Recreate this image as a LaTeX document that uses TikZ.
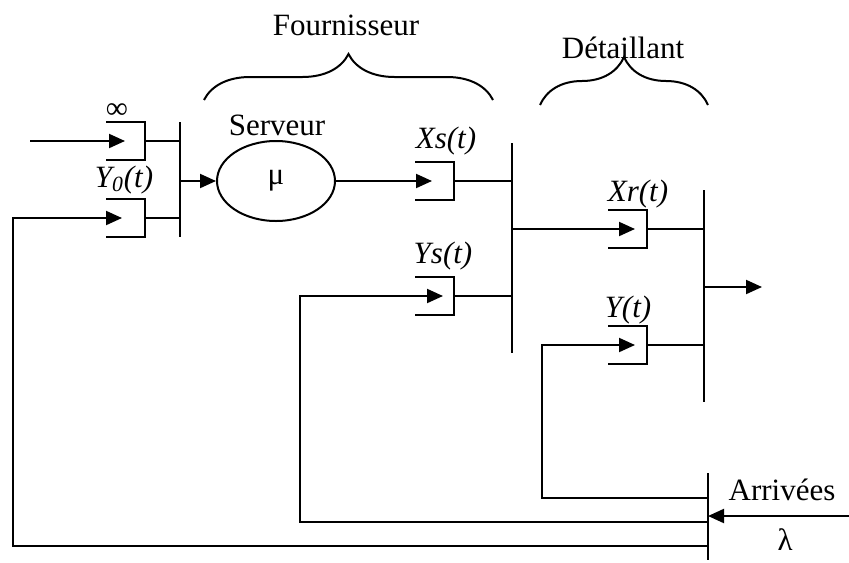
\documentclass[tikz,border=0pt]{standalone}
\usepackage{fontspec}
\setmainfont{Liberation Serif}
\usetikzlibrary{arrows.meta, shapes.geometric, decorations.pathreplacing}

\tikzset{
  fleche/.style={-{Triangle[length=8pt,width=7pt]}},
  accolade/.style={decorate, decoration={brace, amplitude=#1}},
  texte/.style={font=\fontsize{15.5}{18}\selectfont, inner sep=0pt},
  etiq/.style={texte, font=\fontsize{15.5}{18}\selectfont\itshape},
}

% file d'attente : nom, x du fond, y du milieu, recul de la pointe
\newcommand{\fileq}[4]{%
  \coordinate (#1) at (#2,#3);
  \coordinate (#1-in) at (#2-#4,#3);
  \draw (#2-39,#3-19) -- (#2,#3-19) -- (#2,#3+19) -- (#2-39,#3+19);
}

\begin{document}
\begin{tikzpicture}[x=0.5pt, y=-0.5pt, line width=1pt]
    \useasboundingbox (0,0) rectangle (849,562);

    % Fournisseur
    \fileq{qinf}{145}{141}{20}
    \fileq{qyzero}{145}{218}{23}
    \coordinate (b1h) at (180,122); \coordinate (b1b) at (180,237);
    \draw (b1h) -- (b1b);
    \coordinate (source) at (30,141);
    \draw[fleche] (source) -- (qinf-in);
    \draw (qinf) -- (qinf -| b1h);
    \draw (qyzero) -- (qyzero -| b1h);
    \node[texte] at (117,111) {∞};
    \node[etiq] at (124,180) {Y\textsubscript{0}(t)};

    \node[draw, ellipse, minimum width=59pt, minimum height=40pt, texte] (serveur) at (276,181) {μ};
    \node[texte] at (277,125) {Serveur};
    \draw[fleche] (serveur.west -| b1h) -- (serveur.west);

    \fileq{qxs}{454}{181}{22}
    \fileq{qys}{454}{296}{11}
    \coordinate (b2h) at (512,143); \coordinate (b2b) at (512,353);
    \draw (b2h) -- (b2b);
    \draw[fleche] (serveur.east) -- (qxs-in);
    \draw (qxs) -- (qxs -| b2h);
    \draw (qys) -- (qys -| b2h);
    \node[etiq] at (446,141) {Xs(t)};
    \node[etiq] at (443,256) {Ys(t)};

    % Detaillant
    \fileq{qxr}{647}{229}{12}
    \fileq{qy}{647}{345}{12}
    \coordinate (b3h) at (704,190); \coordinate (b3b) at (704,402);
    \draw (b3h) -- (b3b);
    \draw[fleche] (qxr-in -| b2h) -- (qxr-in);
    \draw (qxr) -- (qxr -| b3h);
    \draw (qy) -- (qy -| b3h);
    \node[etiq] at (638,194) {Xr(t)};
    \node[etiq] at (628,310) {Y(t)};
    \coordinate (sortie) at (762,287);
    \draw[fleche] (sortie -| b3h) -- (sortie);

    % Arrivees et retours
    \coordinate (b4h) at (708,473); \coordinate (b4b) at (708,560);
    \draw (b4h) -- (b4b);
    \coordinate (arrivee) at (849,516);
    \draw[fleche] (arrivee) -- (arrivee -| b4h);
    \node[texte] at (782,490) {Arrivées};
    \node[texte] at (785,540) {λ};
    \coordinate (retourY) at (542,498);
    \coordinate (retourYs) at (300,522);
    \coordinate (retourYzero) at (13,546);
    \draw[fleche] (retourY -| b4h) -- (retourY) |- (qy-in);
    \draw[fleche] (retourYs -| b4h) -- (retourYs) |- (qys-in);
    \draw[fleche] (retourYzero -| b4h) -- (retourYzero) |- (qyzero-in);

    % accolades
    \draw[accolade=23pt] (204,100) -- (493,100);
    \node[texte] at (346,25) {Fournisseur};
    \draw[accolade=24pt] (540,105) -- (708,105);
    \node[texte] at (623,48) {Détaillant};
\end{tikzpicture}
\end{document}
